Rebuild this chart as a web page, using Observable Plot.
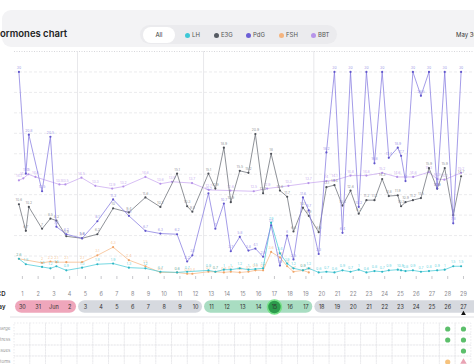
<!DOCTYPE html>
<html><head><meta charset="utf-8">
<script src="https://cdn.jsdelivr.net/npm/d3@7"></script>
<script src="https://cdn.jsdelivr.net/npm/@observablehq/plot@0.6"></script>
<style>
body{margin:0;width:474px;height:364px;overflow:hidden;background:#fff;font-family:Inter,"Noto Sans",sans-serif;position:relative}
#card{position:absolute;left:2px;top:10px;width:500px;height:37px;background:#f3f3f5;border-radius:9px}
#title{position:absolute;left:-7px;top:28px;font-size:9.5px;font-weight:600;color:#222;white-space:nowrap;line-height:12px}
#toggle{position:absolute;left:140px;top:25px;width:197px;height:19px;background:#ebebee;border-radius:10px}
#allBtn{position:absolute;left:143px;top:27px;width:32px;height:16px;background:#fff;border-radius:8px;font-size:6px;color:#333;text-align:center;line-height:16px}
.leg{position:absolute;top:31px;font-size:6px;color:#555;line-height:8px;white-space:nowrap}
.leg i{display:inline-block;width:5px;height:5px;border-radius:50%;margin-right:2px;vertical-align:-0.5px}
#date{position:absolute;left:456px;top:31px;font-size:6px;color:#333;white-space:nowrap;line-height:8px}
#main{position:absolute;left:0;top:46px}
#dayRow{position:absolute;left:0;top:280px}
#grid{position:absolute;left:0;top:318px}
#sep{position:absolute;left:10px;top:316px;width:470px;height:2px;background:#f0f0f2}
svg{overflow:visible}
#dayRow [aria-label="y-axis tick label"] text{font-weight:600;fill:#222}
</style></head>
<body>
<div id="card"></div>
<div id="title">Hormones chart</div>
<div id="toggle"></div>
<div id="allBtn">All</div>
<div id="legend"></div>
<div id="date">May 30 - Jun 27</div>
<div id="main"></div>
<div id="dayRow"></div>
<div id="sep"></div>
<div id="grid"></div>
<script>
// ---- data ----
const seriesNames = ["LH", "E3G", "PdG", "FSH", "BBT"];
const seriesColors = ["#3ec8d6", "#555a62", "#6c5fd6", "#f5b47e", "#b795ea"];
const legendLeft = [185, 214, 246, 279, 311];

// reading times (cycle day + fraction of day)
const readingTimes = [0.78,1.22,1.41,2.25,2.78,3.16,3.79,4.79,5.76,6.76,7.76,8.81,9.76,10.82,11.46,11.79,12.81,13.25,13.79,14.23,14.80,15.35,15.79,16.28,16.79,17.35,17.81,18.21,18.81,19.18,19.81,20.30,20.81,21.32,21.83,22.35,22.84,23.35,23.84,24.26,24.83,25.04,25.32,25.79,26.30,26.81,27.33,27.81,28.35,28.85];
const pdgValues = [30,15.1,20.8,12.5,20.5,7.3,6.2,5.6,8.1,11.3,8.9,6.7,6.3,6.2,2.2,3.1,12.2,7.0,10.7,3.7,5.8,3.8,4.1,2.9,7.5,1.6,6.0,2.5,11.6,9.7,3.3,18.2,30,6.4,30,10.2,30,16.6,30,17.4,18.9,17.7,14.0,30,26.5,30,12.9,30,7.8,30];
const e3gValues = [10.6,6.7,10.2,7.0,8.5,8.2,5.9,5.6,6.2,10.0,9.4,11.6,10.2,15.1,10.3,9.5,15.1,12.9,18.9,10.9,15.5,15.2,20.9,12.2,18.0,12.6,11.7,6.6,10.1,8.9,6.5,13.1,13.4,10.4,12.6,9.2,11.2,11.2,14.3,11.8,11.9,10.3,10.9,11.2,11.5,15.9,12.9,15.9,9.0,14.7];
const lhValues = [2.6,1.8,null,1.4,1.2,1.5,0.9,1.3,1.8,1.9,1.3,1.2,0.7,0.6,0.7,null,0.9,0.7,1.0,1.0,1.2,1.0,1.1,1.2,7.9,3.4,1.9,1.2,0.9,1.2,0.6,0.7,0.6,0.9,0.7,1.0,0.6,0.8,0.7,0.9,1.0,0.9,0.8,0.9,0.7,0.8,0.9,1.0,1.5,1.5];
const fshValues = [2.6,null,null,2.0,2.2,2.1,2.1,2.1,3.1,4.3,2.4,1.5,0.6,0.6,0.4,0.4,0.7,0.7,0.6,0.7,0.6,0.7,0.9,0.9,3.6,2.8,1.5,0.7,0.9,0.6];
const bbtTimes = [0.78,1.06,1.38,1.83,3.35,3.73,4.75,5.63,6.70,7.41,8.81,9.76,10.50,11.77,12.83,14.21,15.69,16.54,17.89,19.16,20.30,20.81,21.83,22.84,23.84,24.79,25.81,26.80,27.33,27.79,28.85];
const bbtValues = [14.1,14.4,15.0,14.6,13.5,13.5,14.5,13.3,12.9,13.2,14.6,13.6,13.9,13.7,12.7,12.6,12.5,12.9,13.3,13.7,14.0,14.1,14.8,14.8,15.2,14.6,14.6,15.3,14.3,14.2,15.2];

const gridLevels = [3,6,9,12,15,18,21,24,27,30];
const topLevel = 33;
const phaseBoundaries = [4.5, 12.5, 19.5];
const cycleDays = d3.range(1, 30);
const dayLabels = ["30","31","Jun","2","3","4","5","6","7","8","9","10","11","12","13","14","15","16","17","18","19","20","21","22","23","24","25","26","27"];
const phaseStart = [1, 5, 13, 20];
const phaseEnd = [4, 12, 19, 29.7];
const phaseColors = ["#efa6bb", "#d6d9df", "#a9ddc2", "#d6d9df"];
const highlightDay = 17;
const todayDay = 29;
const symptomRows = ["Discharge", "Stress", "Issues", "Symptoms"];
const loggedDots = [{cd:28,row:"Discharge"},{cd:28,row:"Stress"},{cd:29,row:"Discharge"},{cd:29,row:"Stress"},{cd:29,row:"Issues"}];
const loggedOrange = [{cd:28,row:"Symptoms"}];
const loggedTriangle = [{cd:29,row:"Symptoms"}];

// ---- legend ----
const leg = document.getElementById("legend");
seriesNames.forEach((n,i)=>{
  const s=document.createElement("div");s.className="leg";s.style.left=legendLeft[i]+"px";
  s.innerHTML=`<i style="background:${seriesColors[i]}"></i>${n}`;leg.appendChild(s);
});

const toRows=(times,vals)=>times.map((t,i)=>({t,v:vals[i]})).filter(d=>d.v!=null && d.v!==undefined);
const pdg=toRows(readingTimes,pdgValues), e3g=toRows(readingTimes,e3gValues), lh=toRows(readingTimes,lhValues), fsh=toRows(readingTimes,fshValues), bbt=toRows(bbtTimes,bbtValues);

const xDom=[0.5,29.7];
function series(data,line,dot,label){
  return [
    Plot.line(data,{x:"t",y:"v",stroke:line,strokeWidth:0.75}),
    Plot.dot(data,{x:"t",y:"v",r:1.1,fill:dot}),
    Plot.text(data,{x:"t",y:"v",text:d=>String(d.v),fill:label,fillOpacity:0.8,fontSize:3.5,dy:-4})
  ];
}
const main=Plot.plot({
  width:474,height:234,marginTop:5,marginBottom:4,marginLeft:14,marginRight:0,
  style:{background:"transparent",fontFamily:"Inter, sans-serif"},
  x:{domain:xDom,ticks:cycleDays,tickSize:3,tickFormat:()=>"",label:null},
  y:{domain:[0,topLevel],axis:null},
  marks:[
    Plot.ruleY(gridLevels,{stroke:"#e6e6e9",strokeDasharray:"3,2",strokeWidth:0.8}),
    Plot.ruleY([topLevel],{stroke:"#cdcdd2",strokeDasharray:"1,1.5",strokeWidth:0.8}),
    Plot.ruleX(phaseBoundaries,{stroke:"#e2e2e6",strokeWidth:0.8}),
    ...series(fsh,"#f6ba88","#f0a468","#f5b47e"),
    ...series(lh,"#48cbd8","#2fb6c4","#3ec8d6"),
    ...series(bbt,"#c9a8f0","#b592e8","#b795ea"),
    ...series(e3g,"#6a6e75","#4c4f56","#74777e"),
    ...series(pdg,"#857be0","#6257cc","#857be0")
  ]
});
main.querySelectorAll('[aria-label="x-axis"] line, [aria-label="x-axis tick"] path').forEach(e=>e.setAttribute("stroke","#c8c8cc"));
document.getElementById("main").appendChild(main);

const phases=phaseStart.map((s,i)=>({s,e:phaseEnd[i],c:phaseColors[i]}));
const dayRow=Plot.plot({
  width:474,height:38,marginTop:0,marginBottom:0,marginLeft:14,marginRight:0,
  style:{background:"transparent",fontFamily:"Inter, sans-serif",fontSize:"6px"},
  x:{domain:xDom,axis:null},
  y:{type:"band",domain:["CD","Day"],range:[7,33],padding:0,tickSize:0,tickPadding:9,label:null},
  marks:[
    Plot.barX(phases,{x1:d=>d.s-0.5,x2:d=>d.e+0.5,y:()=>"Day",fill:d=>d.c,rx:6.5,insetLeft:1,insetRight:1,insetTop:0.3,insetBottom:0.3}),
    Plot.text(cycleDays,{x:d=>d,y:()=>"CD",text:d=>String(d),fill:"#8a8a90",fontSize:5.5}),
    Plot.dot([highlightDay],{x:d=>d,y:()=>"Day",r:7,fill:"#2c9c4c",stroke:"#78e08a",strokeWidth:1.6}),
    Plot.text(cycleDays,{x:d=>d,y:()=>"Day",text:(d,i)=>dayLabels[i],fill:"#333",fontSize:5.5}),
    Plot.dot([todayDay],{x:d=>d,y:()=>"Day",symbol:"triangle",r:1.8,fill:"#111",dy:6.5})
  ]
});
document.getElementById("dayRow").appendChild(dayRow);

const cells=[];symptomRows.forEach(r=>cycleDays.forEach(cd=>cells.push({cd,row:r})));
const grid=Plot.plot({
  width:474,height:46,marginTop:0,marginBottom:0,marginLeft:14,marginRight:0,
  style:{background:"transparent",fontFamily:"Inter, sans-serif",fontSize:"4.5px",color:"#999"},
  x:{domain:xDom,axis:null},
  y:{type:"band",domain:symptomRows,range:[4.5,48.5],padding:0,tickSize:0,tickPadding:4,label:null},
  marks:[
    Plot.barX(cells,{x1:d=>d.cd-0.5,x2:d=>d.cd+0.5,y:"row",fill:"none",stroke:"#e3e3e6",strokeDasharray:"1.5,1.5",strokeWidth:0.7}),
    Plot.dot(loggedDots,{x:"cd",y:"row",r:2.6,fill:"#5cbf6b"}),
    Plot.dot(loggedOrange,{x:"cd",y:"row",r:2.6,fill:"#f6c27c"}),
    Plot.dot(loggedTriangle,{x:"cd",y:"row",r:2.4,symbol:"triangle",fill:"#e9a3b3"})
  ]
});
document.getElementById("grid").appendChild(grid);
</script>
</body></html>
